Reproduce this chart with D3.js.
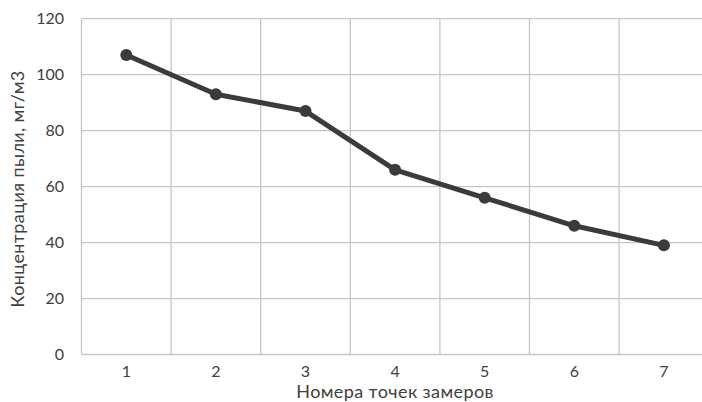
<!DOCTYPE html>
<html>
<head>
<meta charset="utf-8">
<script src="https://cdn.jsdelivr.net/npm/d3@7"></script>
<style>
  html, body { margin: 0; padding: 0; background: #fff; overflow: hidden; }
  svg { display: block; }
  text { font-family: Lato, "Open Sans", sans-serif; fill: #404040; }
</style>
</head>
<body>
<svg id="chart" width="702" height="402"></svg>
<script>
// Dust concentration at each measurement point
const points = ["1", "2", "3", "4", "5", "6", "7"];
const concentration = [107, 93, 87, 66, 56, 46, 39];
const yTicks = [0, 20, 40, 60, 80, 100, 120];

const xTitle = "Номера точек замеров";
const yTitle = "Концентрация пыли, мг/м3";

const W = 702, H = 402;
const margin = { left: 81.5, top: 18.7, bottom: 47.5 };
const plotRight = 708.7;   // last band runs past the right edge

const svg = d3.select("#chart");

const x = d3.scaleBand().domain(points).range([margin.left, plotRight]);
const y = d3.scaleLinear().domain([0, 120]).range([H - margin.bottom, margin.top]);

const grid = svg.append("g").attr("stroke", "#c6c6c6").attr("stroke-width", 1.3);

// horizontal gridlines
grid.selectAll("line.h").data(yTicks).join("line")
  .attr("class", "h")
  .attr("x1", margin.left).attr("x2", plotRight)
  .attr("y1", d => y(d)).attr("y2", d => y(d));

// vertical gridlines at band boundaries
const bounds = points.map(p => x(p)).concat([x(points[points.length - 1]) + x.bandwidth()]);
grid.selectAll("line.v").data(bounds).join("line")
  .attr("class", "v")
  .attr("x1", d => d).attr("x2", d => d)
  .attr("y1", margin.top).attr("y2", y(0));

// y tick labels
svg.append("g").selectAll("text").data(yTicks).join("text")
  .attr("x", 64).attr("y", d => y(d))
  .attr("dy", "0.36em")
  .attr("text-anchor", "end")
  .attr("font-size", 16)
  .text(d => d);

// x tick labels
svg.append("g").selectAll("text").data(points).join("text")
  .attr("x", d => x(d) + x.bandwidth() / 2)
  .attr("y", y(0) + 22)
  .attr("text-anchor", "middle")
  .attr("font-size", 16)
  .text(d => d);

// axis titles
svg.append("text")
  .attr("x", (margin.left + plotRight) / 2).attr("y", 398)
  .attr("text-anchor", "middle")
  .attr("font-size", 18)
  .attr("letter-spacing", 0.4)
  .text(xTitle);

svg.append("text")
  .attr("transform", `translate(23.5, 189) rotate(-90)`)
  .attr("text-anchor", "middle")
  .attr("font-size", 18)
  .attr("letter-spacing", 0.4)
  .text(yTitle);

// series line and markers
const data = points.map((p, i) => ({ p, v: concentration[i] }));
const line = d3.line()
  .x(d => x(d.p) + x.bandwidth() / 2)
  .y(d => y(d.v));

svg.append("path")
  .datum(data)
  .attr("fill", "none")
  .attr("stroke", "#3b3b3b")
  .attr("stroke-width", 5)
  .attr("stroke-linejoin", "round")
  .attr("d", line);

svg.append("g").selectAll("circle").data(data).join("circle")
  .attr("cx", d => x(d.p) + x.bandwidth() / 2)
  .attr("cy", d => y(d.v))
  .attr("r", 6)
  .attr("fill", "#3b3b3b");
</script>
</body>
</html>
